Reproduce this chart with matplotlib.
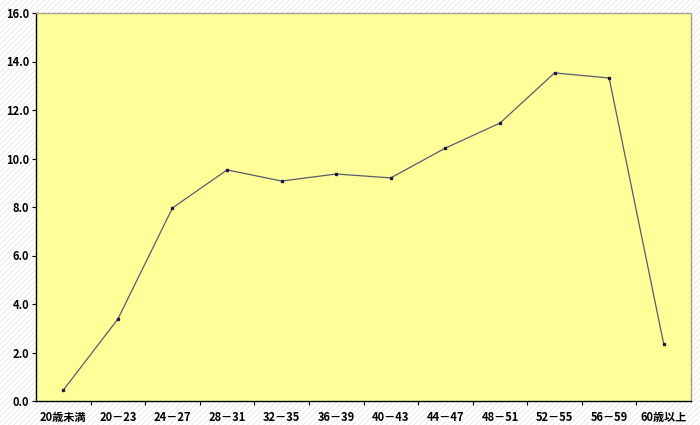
import matplotlib
matplotlib.use("Agg")
import matplotlib.pyplot as plt
from matplotlib.patches import Rectangle

categories = ["20歳未満", "20－23", "24－27", "28－31", "32－35", "36－39",
              "40－43", "44－47", "48－51", "52－55", "56－59", "60歳以上"]
values = [0.45, 3.38, 7.96, 9.53, 9.07, 9.36, 9.2, 10.43, 11.46, 13.53, 13.32, 2.35]
yticks = [0, 2, 4, 6, 8, 10, 12, 14, 16]

plt.rcParams['font.family'] = ['Noto Sans CJK JP', 'DejaVu Sans']
plt.rcParams['hatch.linewidth'] = 0.6
plt.rcParams['hatch.color'] = '#e6e6e6'

fig = plt.figure(figsize=(7, 4.25), dpi=100)
fig.patch.set_facecolor('white')
bg = Rectangle((0, 0), 1, 1, transform=fig.transFigure, facecolor='white',
               edgecolor='#e6e6e6', hatch='//////', linewidth=0, zorder=-10)
fig.patches.append(bg)

ax = fig.add_axes([36/700, 1-401/425, 655/700, 388/425])
ax.set_facecolor('#ffff99')

x = list(range(len(categories)))
ax.plot(x, values, color='#5a5a6e', linewidth=0.9, marker='s', markersize=1.6,
        markerfacecolor='#1a1a4a', markeredgecolor='#1a1a4a')

ax.set_xlim(-0.5, len(categories) - 0.5)
ax.set_ylim(0, 16)
ax.set_yticks(yticks)
ax.set_yticklabels(["%.1f" % v for v in yticks], fontsize=8, fontweight='bold')

# category boundaries get the tick marks, labels sit in the middle
ax.set_xticks([i + 0.5 for i in range(len(categories) - 1)])
ax.set_xticklabels([])
ax.set_xticks(x, minor=True)
ax.set_xticklabels(categories, minor=True, fontsize=8, fontweight='bold')
ax.tick_params(axis='x', which='major', direction='out', length=3, width=0.8)
ax.tick_params(axis='x', which='minor', length=0, pad=7)
ax.tick_params(axis='y', direction='out', length=3, width=0.8, pad=2)

for side in ['left', 'bottom']:
    ax.spines[side].set_color('black')
    ax.spines[side].set_linewidth(1.0)
for side in ['top', 'right']:
    ax.spines[side].set_color('#a0a090')
    ax.spines[side].set_linestyle((0, (1, 1)))
    ax.spines[side].set_linewidth(1.0)

fig.savefig('out.png', dpi=100)
